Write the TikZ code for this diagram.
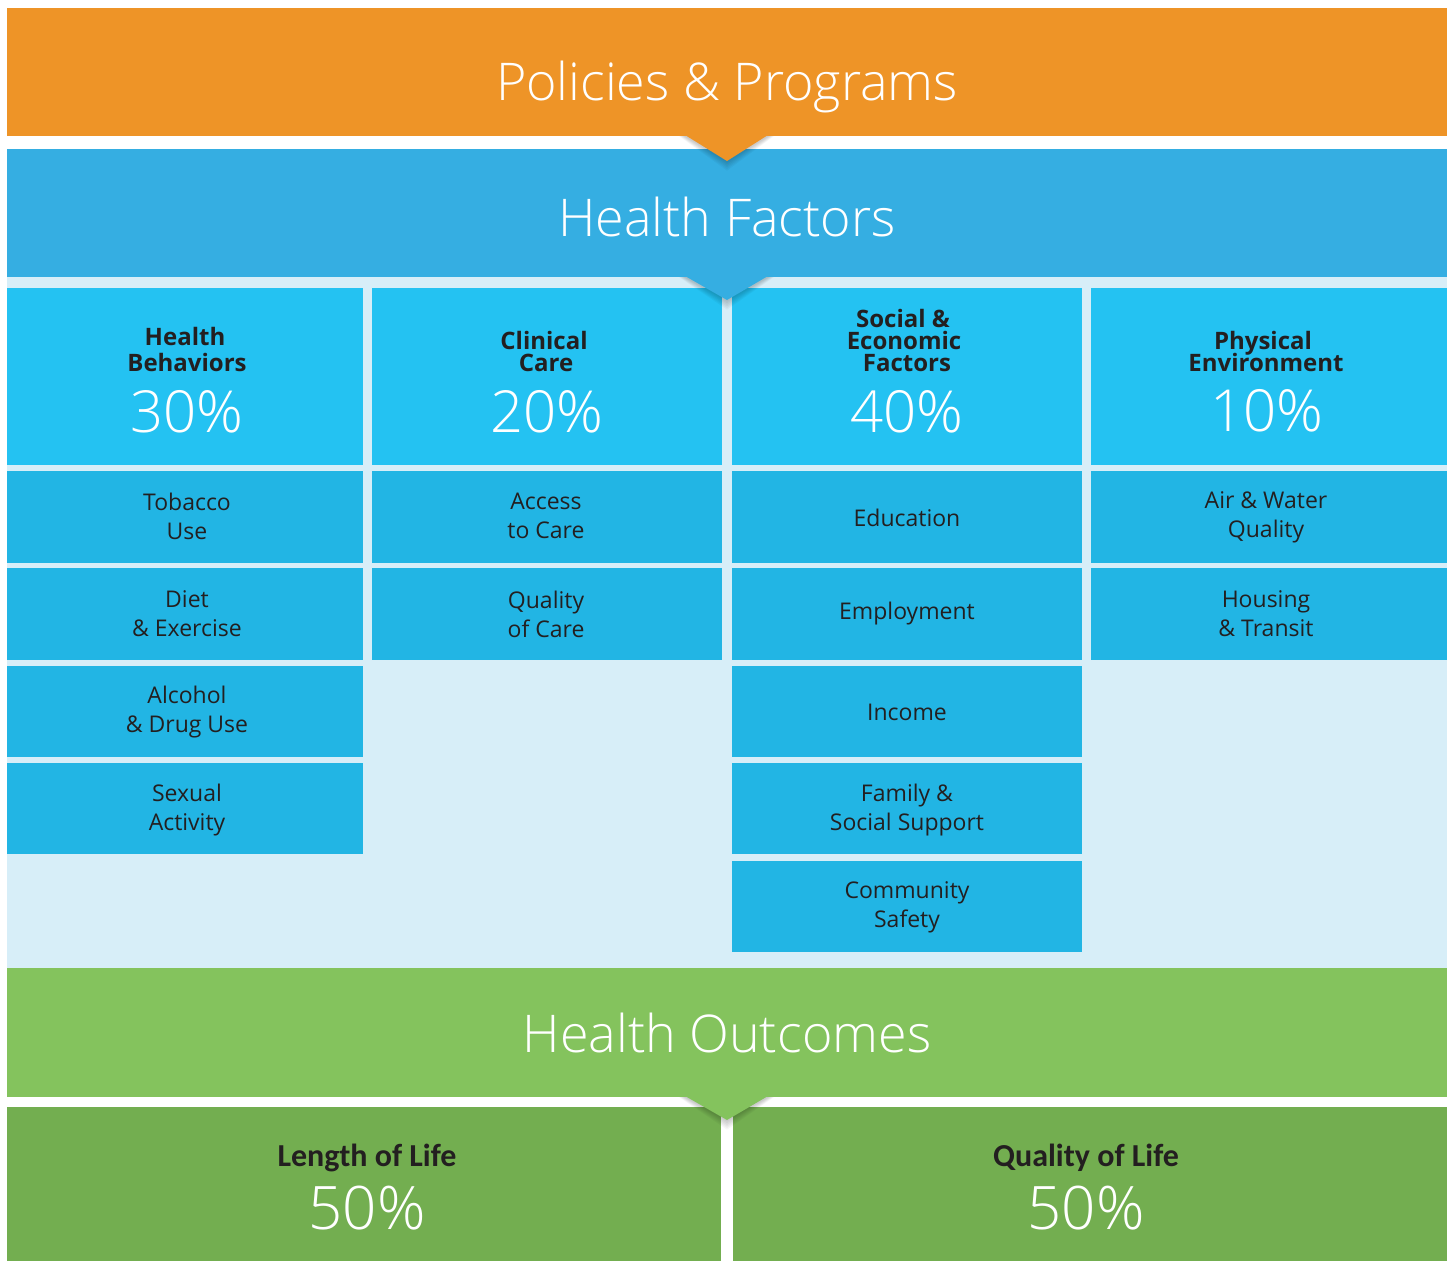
\documentclass[tikz,border=0pt]{standalone}
\usepackage{fontspec}
\setmainfont{Open Sans}
\IfFontExistsTF{Open Sans Light}{\newfontfamily\lightf{Open Sans Light}}{\newfontfamily\lightf{Open Sans}}
\newfontfamily\calib{Carlito}
\definecolor{orangeband}{HTML}{EE9427}
\definecolor{blueband}{HTML}{35AEE2}
\definecolor{headcell}{HTML}{24C2F2}
\definecolor{rowcell}{HTML}{22B5E4}
\definecolor{lightbg}{HTML}{D7EEF8}
\definecolor{greenband}{HTML}{84C35D}
\definecolor{darkgreen}{HTML}{73AE50}
\definecolor{inktext}{HTML}{231F20}
\tikzset{
  title/.style={anchor=base, text=white, inner sep=0pt, font=\lightf\fontsize{52}{60}\selectfont},
  headtxt/.style={anchor=base, text=inktext, inner sep=0pt, font=\bfseries\fontsize{24}{26}\selectfont},
  pct/.style={anchor=base, text=white, inner sep=0pt, font=\lightf\fontsize{58}{64}\selectfont},
  itemtxt/.style={text=inktext, inner sep=0pt, align=center, font=\fontsize{23}{29}\selectfont},
  bottxt/.style={anchor=base, text=inktext, inner sep=0pt, font=\calib\bfseries\fontsize{32}{36}\selectfont},
  botpct/.style={anchor=base, text=white, inner sep=0pt, font=\lightf\fontsize{60}{66}\selectfont},
}
\newcommand{\tri}[3]{% top y, apex y, colour
  \begin{scope}
    \foreach \s in {1,...,6}{
      \fill[black, fill opacity=0.035] (685-\s,#1) -- (768+\s,#1) -- (727,#2+\s*1.6) -- cycle;
    }
  \end{scope}
  \fill[#3] (685,#1-1) -- (768,#1-1) -- (727,#2) -- cycle;
}
\begin{document}
\begin{tikzpicture}[x=1pt,y=-1pt]
\useasboundingbox (0,0) rectangle (1453,1261);
\fill[white] (0,0) rectangle (1453,1261);
% bands
\fill[orangeband] (7,8) rectangle (1447,136);
\fill[blueband] (7,149) rectangle (1447,277);
\fill[lightbg] (7,277) rectangle (1447,968);
% header cells
\fill[headcell] (7,288) rectangle (363,465);
\fill[headcell] (372,288) rectangle (722,465);
\fill[headcell] (732,288) rectangle (1082,465);
\fill[headcell] (1091,288) rectangle (1447,465);
% rows
\foreach \a/\b in {471/563,568/660,666/757,763/854}{\fill[rowcell] (7,\a) rectangle (363,\b);}
\foreach \a/\b in {471/563,568/660}{\fill[rowcell] (372,\a) rectangle (722,\b);}
\foreach \a/\b in {471/563,568/660,666/757,763/854,861/952}{\fill[rowcell] (732,\a) rectangle (1082,\b);}
\foreach \a/\b in {471/563,568/660}{\fill[rowcell] (1091,\a) rectangle (1447,\b);}
% green
\fill[greenband] (7,968) rectangle (1447,1097);
\fill[darkgreen] (7,1107) rectangle (721,1261);
\fill[darkgreen] (733,1107) rectangle (1447,1261);
% triangles
\tri{136}{161}{orangeband}
\tri{277}{300}{blueband}
\tri{1097}{1120}{greenband}
% titles
\node[title] (pp) at (727,100) {Policies \& Programs};
\node[title] (hf) at (727,236) {Health Factors};
\node[title] (ho) at (727,1052) {Health Outcomes};
% headers
\node[headtxt] (hb1) at (185,345) {Health};
\node[headtxt] (hb2) at (187,371) {Behaviors};
\node[pct] (hb3) at (187,432) {30\%};
\node[headtxt] (cc1) at (544,349) {Clinical};
\node[headtxt] (cc2) at (546,371) {Care};
\node[pct] (cc3) at (547,432) {20\%};
\node[headtxt] (se1) at (903,327) {Social \&};
\node[headtxt] (se2) at (904,349) {Economic};
\node[headtxt] (se3) at (907,371) {Factors};
\node[pct] (se4) at (907,432) {40\%};
\node[headtxt] (pe1) at (1263,349) {Physical};
\node[headtxt] (pe2) at (1266,371) {Environment};
\node[pct] (pe3) at (1267,431) {10\%};
% items col1
\node[itemtxt] (i11) at (187,516) {Tobacco\\Use};
\node[itemtxt] (i12) at (187,614) {Diet\\\& Exercise};
\node[itemtxt] (i13) at (187,712) {Alcohol\\\& Drug Use};
\node[itemtxt] (i14) at (187,810) {Sexual\\Activity};
% col2
\node[itemtxt] (i21) at (546,516) {Access\\to Care};
\node[itemtxt] (i22) at (546,614) {Quality\\of Care};
% col3
\node[itemtxt] (i31) at (907,518) {Education};
\node[itemtxt] (i32) at (907,614) {Employment};
\node[itemtxt] (i33) at (907,712) {Income};
\node[itemtxt] (i34) at (907,810) {Family \&\\Social Support};
\node[itemtxt] (i35) at (907,907) {Community\\Safety};
% col4
\node[itemtxt] (i41) at (1266,517) {Air \& Water\\Quality};
\node[itemtxt] (i42) at (1266,614) {Housing\\\& Transit};
% bottom
\node[bottxt] (ll1) at (367,1166) {Length of Life};
\node[botpct] (ll2) at (367,1229) {50\%};
\node[bottxt] (ql1) at (1086,1166) {Quality of Life};
\node[botpct] (ql2) at (1086,1229) {50\%};
\end{tikzpicture}
\end{document}
